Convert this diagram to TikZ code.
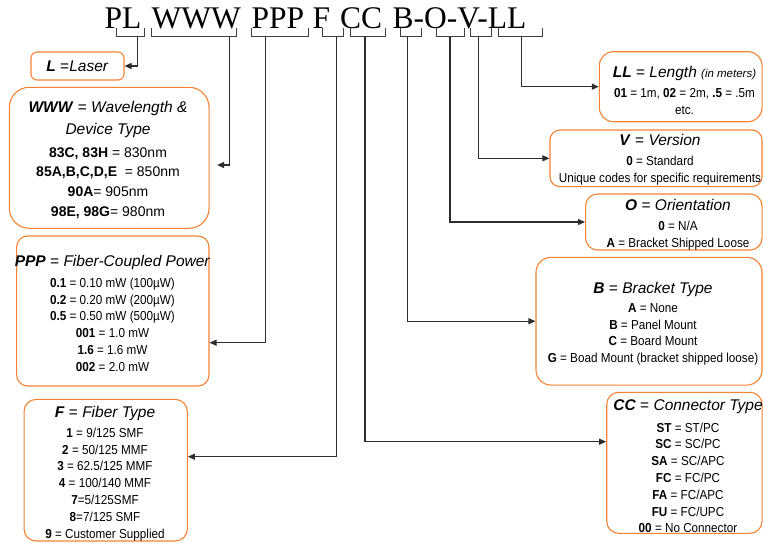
\documentclass[tikz,border=0pt]{standalone}
\usepackage{fontspec}
\setmainfont{Liberation Sans}
\newfontfamily\narrowsans[FakeStretch=0.9]{Liberation Sans}
\newfontfamily\codeserif{Liberation Serif}
\usepackage{xcolor}
\usetikzlibrary{arrows.meta}
\definecolor{boxorange}{RGB}{245,130,50}
\definecolor{linkgray}{RGB}{45,45,45}
\newcommand{\hfnt}{\normalfont\fontsize{15.5}{18}\selectfont}
\newcommand{\bfnt}{\narrowsans\fontsize{13}{16.8}\selectfont}

\begin{document}
\begin{tikzpicture}[x=1pt, y=-1pt,
    >={Triangle[length=7pt,width=6pt]},
    codebox/.style={draw=boxorange, line width=1.1pt, rounded corners=#1, inner sep=0pt},
    codebox/.default=12pt,
    boxtext/.style={align=center, inner sep=0pt, font=\bfnt},
    codetext/.style={anchor=base west, inner sep=0pt, font=\codeserif\fontsize{31.5}{36}\selectfont},
    bracket/.style={draw=black!75, line width=0.8pt},
    link/.style={->, draw=linkgray, line width=1.1pt}]
    \useasboundingbox (0,0) rectangle (763,542);

    % part number
    \node[codetext] (cPL) at (104.5,28.5) {PL};
    \node[codetext] (cWWW) at (151.5,28.5) {WWW};
    \node[codetext] (cPPP) at (251.5,28.5) {PPP};
    \node[codetext] (cF) at (312.5,28.5) {F};
    \node[codetext] (cCC) at (340,28.5) {CC};
    \node[codetext] (cBOVLL) at (392.5,28.5) {B-O-V-LL};

    \draw[bracket] (116.7,28.3) -- (116.7,36.7) -- (144.3,36.7) -- (144.3,28.3);
    \draw[bracket] (151.7,28.3) -- (151.7,36.7) -- (236.7,36.7) -- (236.7,28.3);
    \draw[bracket] (251.7,28.3) -- (251.7,36.7) -- (308.3,36.7) -- (308.3,28.3);
    \draw[bracket] (322.3,28.3) -- (322.3,36.7) -- (343.3,36.7) -- (343.3,28.3);
    \draw[bracket] (350.7,28.3) -- (350.7,36.7) -- (385.7,36.7) -- (385.7,28.3);
    \draw[bracket] (400.7,28.3) -- (400.7,36.7) -- (421.7,36.7) -- (421.7,28.3);
    \draw[bracket] (436,28.3) -- (436,36.7) -- (464,36.7) -- (464,28.3);
    \draw[bracket] (470.7,28.3) -- (470.7,36.7) -- (491.7,36.7) -- (491.7,28.3);
    \draw[bracket] (498.3,28.3) -- (498.3,36.7) -- (542.7,36.7) -- (542.7,28.3);

    \coordinate (sPL) at (137.7,36.7);
    \coordinate (sWWW) at (229.3,36.7);
    \coordinate (sPPP) at (265.7,36.7);
    \coordinate (sF) at (336.7,36.7);
    \coordinate (sCC) at (365,36.7);
    \coordinate (sB) at (407.7,36.7);
    \coordinate (sO) at (450,36.7);
    \coordinate (sV) at (478.3,36.7);
    \coordinate (sLL) at (521.7,36.7);

    % left boxes
    \node[codebox=6pt, minimum width=93pt, minimum height=28pt] (bL) at (77.5,66) {};
    \node[codebox=20pt, minimum width=199.7pt, minimum height=141pt] (bWWW) at (109.2,157.8) {};
    \node[codebox=11pt, minimum width=192.3pt, minimum height=150pt] (bPPP) at (112.8,311) {};
    \node[codebox=12pt, minimum width=163.3pt, minimum height=141.6pt] (bF) at (105.7,470.2) {};

    \node[boxtext] (tL) at (77.5,66) {{\hfnt\textbf{\textit{L}} =\textit{Laser}}};
    \node[boxtext, font=\normalfont\fontsize{14}{19.7}\selectfont] (tWWW) at (108,159.9) {%
        {\hfnt\textbf{\textit{WWW}} = \textit{Wavelength \&}}\\[2.3pt]
        {\hfnt\textit{Device Type}}\\[3pt]
        \textbf{83C, 83H} = 830nm\\
        \textbf{85A,B,C,D,E}~ = 850nm\\
        \textbf{90A}= 905nm\\
        \textbf{98E, 98G}= 980nm};
    \node[boxtext] (tPPP) at (112.5,313.5) {%
        {\hfnt\textbf{\textit{PPP}} = \textit{Fiber-Coupled Power}}\\[3.5pt]
        \textbf{0.1} = 0.10 mW (100µW)\\
        \textbf{0.2} = 0.20 mW (200µW)\\
        \textbf{0.5} = 0.50 mW (500µW)\\
        \textbf{001} = 1.0 mW\\
        \textbf{1.6} = 1.6 mW\\
        \textbf{002} = 2.0 mW};
    \node[boxtext] (tF) at (105,473.7) {%
        {\hfnt\textbf{\textit{F}} = \textit{Fiber Type}}\\[2.5pt]
        \textbf{1} = 9/125 SMF\\
        \textbf{2} = 50/125 MMF\\
        \textbf{3} = 62.5/125 MMF\\
        \textbf{4} = 100/140 MMF\\
        \textbf{7}=5/125SMF\\
        \textbf{8}=7/125 SMF\\
        \textbf{9} = Customer Supplied};

    % right boxes
    \node[codebox=14pt, minimum width=162.7pt, minimum height=70pt] (bLL) at (680.7,86.7) {};
    \node[codebox=10pt, minimum width=212pt, minimum height=56.7pt] (bV) at (656,158.3) {};
    \node[codebox=12pt, minimum width=176.5pt, minimum height=56pt] (bO) at (673.8,222) {};
    \node[codebox=15pt, minimum width=226pt, minimum height=127.7pt] (bB) at (649,321.2) {};
    \node[codebox=12pt, minimum width=155.3pt, minimum height=141pt] (bCC) at (684.4,462.8) {};

    \node[boxtext] (tLL) at (684.5,90.5) {%
        {\hfnt\textbf{\textit{LL}} = \textit{Length} {\fontsize{11.5}{14}\selectfont\textit{(in meters)}}}\\[3.2pt]
        \textbf{01} = 1m, \textbf{02} = 2m, \textbf{.5} = .5m\\[0.8pt]
        etc.};
    \node[boxtext] (tV) at (660,160) {%
        {\hfnt\textbf{\textit{V}} = \textit{Version}}\\[3.2pt]
        \textbf{0} = Standard\\
        Unique codes for specific requirements};
    \node[boxtext] (tO) at (678,224.3) {%
        {\hfnt\textbf{\textit{O}} = \textit{Orientation}}\\[3.5pt]
        \textbf{0} = N/A\\
        \textbf{A} = Bracket Shipped Loose};
    \node[boxtext] (tB) at (653,323.8) {%
        {\hfnt\textbf{\textit{B}} = \textit{Bracket Type}}\\[2.2pt]
        \textbf{A} = None\\
        \textbf{B} = Panel Mount\\
        \textbf{C} = Board Mount\\
        \textbf{G} = Boad Mount (bracket shipped loose)};
    \node[boxtext] (tCC) at (688,466.4) {%
        {\hfnt\textbf{\textit{CC}} = \textit{Connector Type}}\\[4.5pt]
        \textbf{ST} = ST/PC\\
        \textbf{SC} = SC/PC\\
        \textbf{SA} = SC/APC\\
        \textbf{FC} = FC/PC\\
        \textbf{FA} = FC/APC\\
        \textbf{FU} = FC/UPC\\
        \textbf{00} = No Connector};

    % links from the brackets
    \draw[link] (sPL) |- (bL.east);
    \draw[link] (sWWW) |- ([xshift=7.5pt, yshift=-7.2pt]bWWW.east);
    \draw[link] (sPPP) |- ([yshift=-31.7pt]bPPP.east);
    \draw[link] (sF) |- ([yshift=13.5pt]bF.east);
    \draw[link] (sCC) |- ([yshift=21.1pt]bCC.west);
    \draw[link] (sB) |- (bB.west);
    \draw[link] (sO) |- (bO.west);
    \draw[link] (sV) |- (bV.west);
    \draw[link] (sLL) |- (bLL.west);
\end{tikzpicture}
\end{document}
